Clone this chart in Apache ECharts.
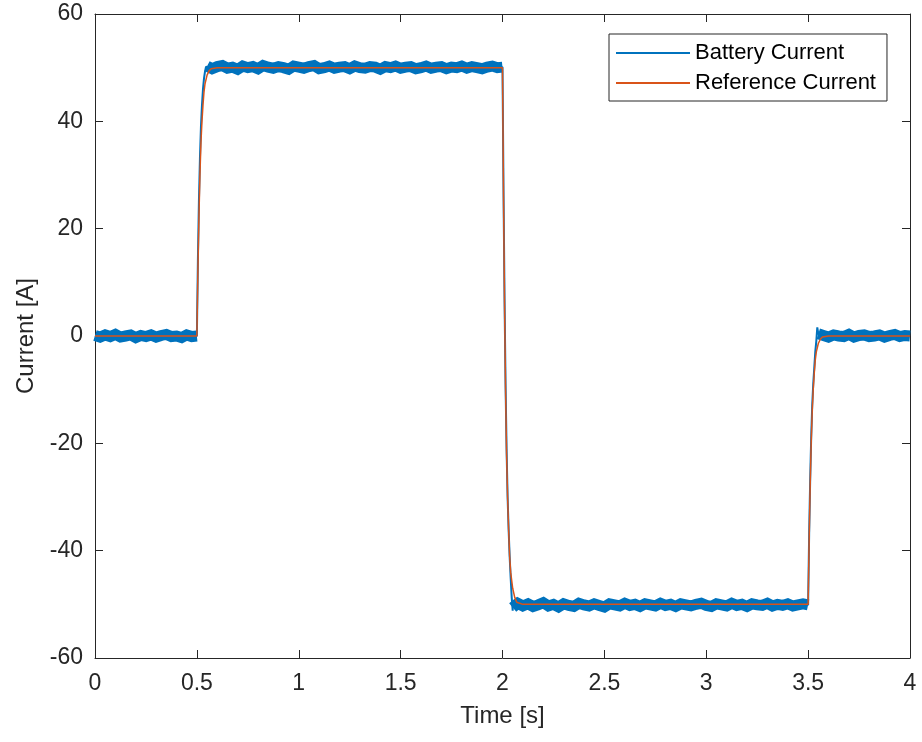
<!DOCTYPE html>
<html>
<head>
<meta charset="utf-8">
<script src="https://cdn.jsdelivr.net/npm/echarts@6/dist/echarts.min.js"></script>
<style>
html, body { margin: 0; padding: 0; background: #fff; }
#chart { width: 922px; height: 742px; }
</style>
</head>
<body>
<div id="chart"></div>
<script>
// axis ticks
var xTicks = [0, 0.5, 1, 1.5, 2, 2.5, 3, 3.5, 4];
var yTicks = [-60, -40, -20, 0, 20, 40, 60];

// reference current [time, A]
var refCurrent = [
    [0, 0], [0.5, 0], [0.505, 12], [0.51, 22], [0.515, 30], [0.52, 36], [0.525, 40], [0.53, 43],
    [0.535, 45.5], [0.54, 47], [0.55, 48.6], [0.56, 49.4], [0.57, 49.8], [0.6, 50],
    [2.0, 50], [2.005, 26], [2.01, 6], [2.015, -10], [2.02, -22], [2.025, -30], [2.03, -36],
    [2.035, -41], [2.04, -44], [2.05, -47], [2.06, -48.7], [2.07, -49.6], [2.1, -50],
    [3.5, -50], [3.505, -38], [3.51, -28], [3.515, -20], [3.52, -14], [3.525, -10], [3.53, -7],
    [3.535, -4.5], [3.54, -3], [3.55, -1.4], [3.56, -0.6], [3.57, -0.2], [3.6, 0], [4, 0]
];

// battery current: noisy plateaus sampled every 0.025 s
var step = 0.025;
var plat1Start = 0;
var plat1 = [0.1, -0.2, 0.2, -0.1, 0.3, -0.2, 0.0, 0.2, -0.3, 0.1, -0.1, 0.2, -0.2, 0.1, 0.3,
    -0.1, 0.0, -0.3, 0.2, -0.1, 0.0];
var plat2Start = 0.55;
var plat2 = [50.3, 49.8, 50.2, 50.4, 49.9, 50.1, 49.7, 50.3, 50.0, 50.2, 49.8, 50.4, 50.1, 49.9,
    50.2, 50.0, 49.7, 50.3, 50.1, 49.9, 50.2, 50.4, 49.8, 50.0, 50.3, 49.9, 50.1, 50.2, 49.8,
    50.3, 50.0, 49.9, 50.2, 50.1, 49.7, 50.2, 50.0, 50.3, 49.9, 50.1, 50.2, 49.8, 50.0, 50.3,
    49.9, 50.1, 50.2, 49.8, 50.1, 50.0, 50.3, 49.9, 50.2, 50.0, 49.8, 50.1, 50.3, 50.0, 50.1];
var plat3Start = 2.05;
var plat3 = [-50.6, -49.8, -50.3, -49.9, -50.4, -50.1, -49.7, -50.3, -50.0, -50.5, -49.9, -50.2,
    -50.4, -49.8, -50.1, -50.3, -49.9, -50.2, -50.5, -49.9, -50.1, -50.3, -49.8, -50.2, -50.0,
    -50.4, -49.9, -50.1, -50.3, -49.8, -50.2, -50.0, -50.4, -49.9, -50.1, -50.3, -50.0, -49.8,
    -50.2, -50.4, -49.9, -50.1, -50.3, -49.8, -50.2, -50.0, -50.4, -49.9, -50.1, -50.2, -49.8,
    -50.3, -50.0, -50.2, -49.9, -50.3, -50.1, -49.9, -50.1];
var plat4Start = 3.55;
var plat4 = [0.4, 0.1, -0.2, 0.2, 0.0, -0.1, 0.3, -0.2, 0.1, 0.2, -0.1, 0.0, 0.2, -0.2, 0.1,
    0.3, -0.1, 0.1, 0.0];

// battery current during the steps [time, A]
var battRise1 = [[0.5, 0], [0.505, 14], [0.51, 25], [0.515, 33], [0.52, 39], [0.525, 43],
    [0.53, 46], [0.535, 48], [0.54, 49.3], [0.545, 50.2]];
var battFall = [[2.0, 50], [2.005, 27], [2.01, 7], [2.015, -9], [2.02, -21], [2.025, -30],
    [2.03, -36], [2.035, -41], [2.04, -45], [2.045, -48.6], [2.05, -51.2]];
var battRise2 = [[3.5, -50], [3.505, -37], [3.51, -27], [3.515, -19], [3.52, -13], [3.525, -9],
    [3.53, -6], [3.535, -3], [3.54, -1], [3.545, 1.6], [3.55, 0.4]];

function platPoints(start, vals) {
    return vals.map(function (v, i) { return [+(start + i * step).toFixed(4), v]; });
}
var p1 = platPoints(plat1Start, plat1);
var p2 = platPoints(plat2Start, plat2);
var p3 = platPoints(plat3Start, plat3);
var p4 = platPoints(plat4Start, plat4);

var battThin = [].concat(p1, battRise1, p2, battFall, p3, battRise2, p4);
var battBand = [].concat(p1, [[0.52, '-']], p2, [[2.02, '-']], p3, [[3.52, '-']], p4);

var fontFam = '"Liberation Sans", Arial, Helvetica, sans-serif';
var ink = '#262626';
var blue = '#0072BD';
var orange = '#D95319';

var myChart = echarts.init(document.getElementById('chart'));
var option = {
    backgroundColor: '#fff',
    animation: false,
    textStyle: { fontFamily: fontFam },
    grid: { left: 95, top: 14, width: 815, height: 644 },
    legend: {
        orient: 'vertical',
        left: 609,
        top: 34,
        padding: [7, 11, 6, 7],
        itemGap: 6,
        itemWidth: 74,
        itemHeight: 2,
        icon: 'rect',
        backgroundColor: '#fff',
        borderColor: ink,
        borderWidth: 1,
        borderRadius: 0,
        textStyle: { fontFamily: fontFam, fontSize: 22, color: '#000', lineHeight: 24 },
        data: ['Battery Current', 'Reference Current']
    },
    xAxis: [{
        type: 'value',
        min: 0,
        max: 4,
        interval: 0.5,
        name: 'Time [s]',
        nameLocation: 'middle',
        nameGap: 46,
        nameTextStyle: { fontFamily: fontFam, fontSize: 24, color: ink },
        axisLine: { onZero: false, lineStyle: { color: ink, width: 1 } },
        axisTick: { inside: true, length: 8, lineStyle: { color: ink } },
        axisLabel: { margin: 14, fontSize: 23, color: ink, fontFamily: fontFam },
        splitLine: { show: false }
    }, {
        type: 'value',
        position: 'top',
        min: 0,
        max: 4,
        interval: 0.5,
        axisLine: { show: true, onZero: false, lineStyle: { color: ink, width: 1 } },
        axisTick: { inside: true, length: 8, lineStyle: { color: ink } },
        axisLabel: { show: false },
        splitLine: { show: false }
    }],
    yAxis: [{
        type: 'value',
        min: -60,
        max: 60,
        interval: 20,
        name: 'Current [A]',
        nameLocation: 'middle',
        nameGap: 56,
        nameTextStyle: { fontFamily: fontFam, fontSize: 24, color: ink },
        axisLine: { show: true, onZero: false, lineStyle: { color: ink, width: 1 } },
        axisTick: { show: true, inside: true, length: 8, lineStyle: { color: ink } },
        axisLabel: { margin: 12, fontSize: 23, color: ink, fontFamily: fontFam },
        splitLine: { show: false }
    }, {
        type: 'value',
        position: 'right',
        min: -60,
        max: 60,
        interval: 20,
        axisLine: { show: true, onZero: false, lineStyle: { color: ink, width: 1 } },
        axisTick: { show: true, inside: true, length: 8, lineStyle: { color: ink } },
        axisLabel: { show: false },
        splitLine: { show: false }
    }],
    series: [
        {
            name: 'Battery Current',
            type: 'line',
            showSymbol: false,
            color: blue,
            lineStyle: { width: 2, color: blue },
            data: battThin,
            z: 2
        },
        {
            name: 'Battery Current',
            type: 'line',
            showSymbol: false,
            color: blue,
            connectNulls: false,
            lineStyle: { width: 11, color: blue, cap: 'butt', join: 'miter' },
            data: battBand,
            z: 2
        },
        {
            name: 'Reference Current',
            type: 'line',
            showSymbol: false,
            color: orange,
            lineStyle: { width: 1.5, color: orange },
            data: refCurrent,
            z: 3
        }
    ]
};
myChart.setOption(option);
window.addEventListener('resize', function () {
    myChart.resize();
});
</script>
</body>
</html>
